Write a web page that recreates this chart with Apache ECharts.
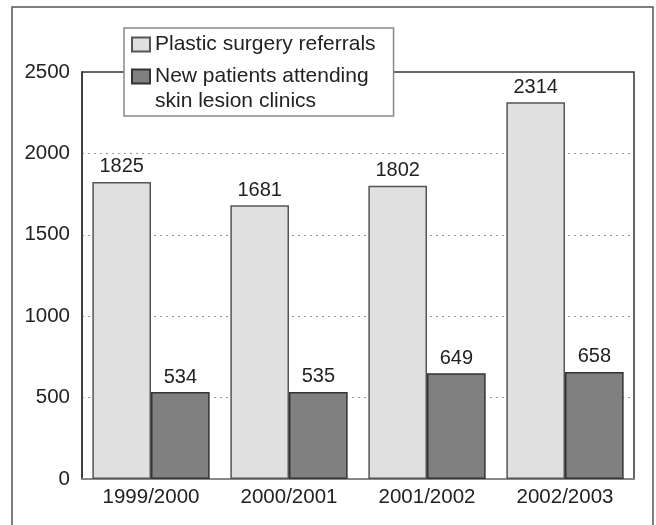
<!DOCTYPE html>
<html>
<head>
<meta charset="utf-8">
<style>
  html, body { margin: 0; padding: 0; background: #fff; }
  #chart { width: 656px; height: 525px; }
</style>
<script src="https://cdn.jsdelivr.net/npm/echarts@6/dist/echarts.min.js"></script>
</head>
<body>
<div id="chart"></div>
<script>
// Referral and clinic attendance counts per financial year
const years = ['1999/2000', '2000/2001', '2001/2002', '2002/2003'];
const referrals = [1825, 1681, 1802, 2314];
const newPatients = [534, 535, 649, 658];
const yTicks = [0, 500, 1000, 1500, 2000, 2500];

const REFERRALS = 'Plastic surgery referrals';
const NEW_PATIENTS = 'New patients attending\nskin lesion clinics';

const FONT = 'Liberation Sans, Arial, sans-serif';
const TEXT = '#222';

const chart = echarts.init(document.getElementById('chart'), null, { renderer: 'canvas' });

chart.setOption({
  backgroundColor: '#fff',
  animation: false,
  graphic: [{
    type: 'rect',
    shape: { x: 12, y: 7, width: 641, height: 530 },
    style: { fill: 'none', stroke: '#555', lineWidth: 1.5 },
    silent: true,
    z: -1
  }],
  legend: {
    orient: 'vertical',
    left: 124,
    top: 28,
    padding: [4, 18, 2, 7],
    backgroundColor: '#fff',
    borderColor: '#888',
    borderWidth: 1.5,
    borderRadius: 0,
    itemWidth: 18,
    itemHeight: 14,
    itemGap: -18,
    textStyle: { fontFamily: FONT, fontSize: 21, lineHeight: 25, color: TEXT },
    // a blank leading line keeps the icon level with the first line of a two-line entry
    formatter: function (name) {
      return name.indexOf('\n') >= 0 ? '\u00a0\n' + name : name;
    },
    data: [
      { name: REFERRALS, icon: 'rect' },
      { name: NEW_PATIENTS, icon: 'rect' }
    ],
    z: 10
  },
  grid: {
    left: 82, right: 22, top: 72, bottom: 46,
    show: true,
    borderColor: '#333',
    borderWidth: 1.5
  },
  xAxis: {
    type: 'category',
    data: years,
    axisTick: { show: false },
    axisLine: { show: true, lineStyle: { color: '#888', width: 2 } },
    axisLabel: { fontFamily: FONT, fontSize: 20.5, color: TEXT, margin: 8 }
  },
  yAxis: {
    type: 'value',
    min: yTicks[0],
    max: yTicks[yTicks.length - 1],
    interval: yTicks[1] - yTicks[0],
    axisLine: { show: true, lineStyle: { color: '#333', width: 1.5 } },
    axisTick: { show: false },
    axisLabel: {
      fontFamily: FONT, fontSize: 20.5, color: TEXT, margin: 12,
      formatter: function (v) { return String(v); }
    },
    splitLine: {
      show: true,
      showMinLine: false,
      showMaxLine: false,
      lineStyle: { color: '#999', type: [2, 4], width: 1 }
    }
  },
  series: [
    {
      name: REFERRALS,
      type: 'bar',
      data: referrals,
      barGap: '0%',
      barCategoryGap: '15%',
      itemStyle: { color: '#e0e0e0', borderColor: '#555', borderWidth: 1.5 },
      label: { show: true, position: 'top', distance: 5, fontFamily: FONT, fontSize: 20, color: TEXT }
    },
    {
      name: NEW_PATIENTS,
      type: 'bar',
      data: newPatients,
      barGap: '0%',
      barCategoryGap: '15%',
      itemStyle: { color: '#808080', borderColor: '#333', borderWidth: 1.5 },
      label: { show: true, position: 'top', distance: 5, fontFamily: FONT, fontSize: 20, color: TEXT }
    }
  ]
});
</script>
</body>
</html>
